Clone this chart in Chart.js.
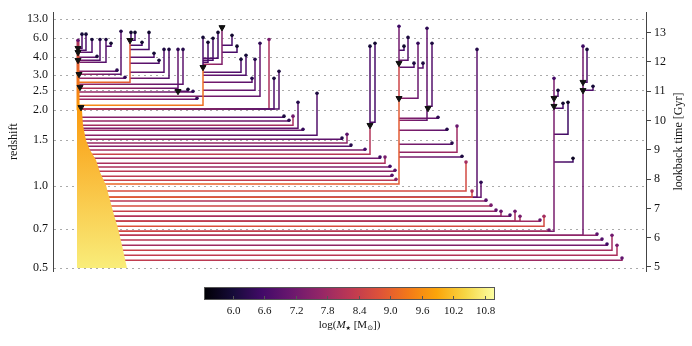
<!DOCTYPE html>
<html>
<head>
<meta charset="utf-8">
<script src="https://cdn.jsdelivr.net/npm/chart.js@4.4.0/dist/chart.umd.min.js"></script>
<style>
  html, body { margin: 0; padding: 0; background: #fff; }
  canvas { display: block; }
</style>
</head>
<body>
<canvas id="tree" width="692" height="346"></canvas>
<script>
// left axis: redshift labels and the lookback time (Gyr) they sit at
const zLabels   = ['0.5', '0.7', '1.0', '1.5', '2.0', '2.5', '3.0', '4.0', '6.0', '13.0'];
const zLookback = [4.96, 6.29, 7.76, 9.33, 10.35, 11.03, 11.55, 12.16, 12.81, 13.46];
// right axis: lookback time ticks
const tTicks = [5, 6, 7, 8, 9, 10, 11, 12, 13];
// colour bar (log stellar mass)
const cbTicks = [6.0, 6.6, 7.2, 7.8, 8.4, 9.0, 9.6, 10.2, 10.8];
const cbMin = 5.45, cbMax = 11.0;

// main progenitor: line above the filled body
const mainX = 78;
const mainT = [10.35, 11.14, 12.06, 12.74];
const mainMass = [9.8, 9.4, 8.9, 7.9];
// filled body of the main progenitor (right edge, bottom to top)
const bodyT = [4.96, 5.74, 6.32, 6.77, 7.28, 7.79, 8.23, 8.65, 8.99, 9.33, 9.84, 10.35, 10.45];
const bodyX = [127, 122, 118, 114, 110, 106, 100, 96, 90, 86, 83, 82, 79];
const bodyMassBottom = 10.75, bodyMassTop = 9.75;

// side branches: parent position, merger time, own position, first snapshot, masses
const brFromX = [
  78, 78, 78, 78, 78, 78, 78, 78, 78, 78,
  78, 78, 78, 78, 78, 78, 78, 78, 78, 78,
  78, 399, 399, 399, 399, 399, 399, 418, 399, 427,
  399, 399, 399, 399, 399, 78, 583, 583, 78, 554,
  554, 554, 554, 78, 78, 78, 78, 78, 78, 78,
  78, 78, 78, 78, 78, 78, 78, 370, 370, 78,
  78, 78, 78, 78, 78, 78, 203, 203, 203, 203,
  203, 222, 222, 203, 203, 203, 203, 78, 78, 78,
  78, 178, 78, 78, 130, 130, 130, 130, 130, 130,
  130, 130, 78, 78, 78, 78, 106, 78, 78, 78,
  78, 78
];
const brMergeT = [
  5.23, 5.40, 5.57, 5.74, 5.92, 6.08, 6.22, 6.39, 6.56, 6.56,
  6.56, 6.73, 6.73, 6.90, 7.08, 7.25, 7.38, 7.38, 7.38, 7.59,
  7.83, 10.76, 11.96, 12.40, 12.06, 11.82, 10.76, 11.79, 10.01, 10.49,
  10.08, 9.67, 9.19, 8.92, 8.75, 6.08, 11.31, 11.03, 6.22, 10.83,
  10.42, 9.53, 8.58, 10.39, 10.39, 10.39, 10.11, 9.98, 9.84, 9.74,
  9.67, 9.50, 9.36, 9.23, 9.12, 8.99, 8.85, 9.84, 9.94, 8.71,
  8.54, 8.41, 8.27, 8.10, 7.96, 10.52, 11.82, 11.99, 12.06, 12.13,
  11.92, 12.57, 12.33, 11.65, 11.55, 11.31, 11.03, 10.83, 10.73, 10.97,
  11.10, 11.00, 11.24, 11.31, 12.74, 12.74, 12.57, 12.43, 12.16, 11.96,
  11.65, 11.44, 11.44, 11.58, 11.68, 11.99, 12.54, 12.06, 12.16, 12.33,
  12.40, 12.47
];
const brX = [
  622, 617, 612, 607, 602, 597, 549, 544, 540, 520,
  515, 510, 501, 496, 491, 486, 472, 477, 481, 466,
  399, 399, 399, 404, 408, 414, 418, 423, 427, 432,
  438, 447, 452, 457, 462, 583, 587, 593, 554, 558,
  563, 568, 573, 279, 274, 269, 284, 289, 293, 298,
  303, 317, 342, 347, 351, 365, 370, 370, 375, 380,
  385, 390, 395, 392, 396, 203, 203, 208, 213, 218,
  222, 232, 237, 241, 246, 252, 255, 260, 197, 193,
  178, 188, 183, 130, 131, 135, 142, 149, 154, 159,
  164, 169, 125, 121, 117, 106, 111, 100, 97, 92,
  86, 82
];
const brStartT = [
  5.30, 5.74, 6.08, 5.78, 5.95, 6.12, 6.26, 6.73, 6.60, 6.73,
  6.90, 6.77, 6.90, 6.94, 7.11, 7.28, 7.59, 12.43, 7.89, 8.58,
  10.76, 11.96, 13.22, 12.54, 12.84, 11.96, 12.64, 11.96, 13.15, 12.64,
  10.11, 9.70, 9.23, 9.81, 8.78, 12.54, 12.43, 11.17, 11.44, 11.03,
  10.59, 10.62, 8.71, 11.68, 11.44, 12.77, 10.15, 10.01, 10.15, 10.62,
  9.70, 10.93, 9.40, 9.53, 9.16, 9.02, 9.84, 12.54, 12.64, 8.75,
  8.75, 8.44, 8.30, 8.13, 7.99, 11.82, 12.84, 12.67, 12.81, 13.01,
  13.18, 12.91, 12.54, 12.09, 12.23, 11.44, 12.09, 12.64, 10.76, 11.00,
  12.43, 11.07, 12.43, 12.74, 13.01, 13.01, 12.67, 13.01, 12.30, 12.06,
  12.43, 12.43, 11.48, 13.05, 11.72, 12.77, 12.64, 12.77, 12.19, 12.77,
  12.95, 12.95
];
const brMassMerge = [
  8.4, 8.4, 8.5, 8.0, 8.3, 8.3, 8.7, 8.8, 8.5, 8.2,
  8.2, 8.2, 8.2, 8.5, 8.8, 8.3, 9.0, 8.6, 8.5, 8.7,
  9.1, 8.6, 7.6, 6.8, 7.2, 7.0, 7.6, 7.0, 7.6, 7.0,
  7.5, 7.5, 7.4, 7.6, 7.4, 8.2, 7.0, 6.9, 8.2, 6.9,
  6.9, 6.9, 6.9, 8.3, 8.2, 8.2, 7.6, 7.8, 7.9, 7.5,
  7.8, 7.6, 7.8, 7.8, 7.6, 8.0, 8.5, 7.0, 6.9, 7.9,
  8.0, 8.1, 8.3, 8.4, 8.5, 9.6, 7.1, 6.9, 6.9, 6.9,
  8.0, 6.8, 6.8, 7.1, 7.1, 7.3, 7.4, 7.9, 7.8, 7.8,
  8.2, 6.8, 7.8, 9.3, 6.8, 6.8, 6.8, 6.9, 7.0, 7.1,
  7.2, 7.3, 7.8, 7.8, 7.6, 7.4, 6.8, 7.3, 7.3, 7.2,
  7.0, 7.0
];
const brMassStart = [
  7.7, 8.0, 7.9, 7.2, 7.5, 7.6, 7.9, 8.6, 7.8, 8.0,
  7.9, 7.4, 7.8, 7.7, 8.0, 7.6, 8.7, 6.9, 7.0, 8.6,
  8.9, 8.5, 7.2, 6.6, 6.8, 6.8, 7.1, 6.8, 7.0, 6.8,
  7.0, 6.9, 6.9, 7.8, 6.8, 7.2, 6.7, 6.7, 7.3, 6.7,
  6.6, 6.5, 6.5, 6.8, 6.7, 8.0, 6.8, 7.0, 7.9, 6.9,
  7.1, 6.8, 6.9, 7.6, 6.9, 7.3, 8.1, 6.7, 6.6, 7.2,
  8.0, 7.3, 7.6, 7.6, 8.2, 9.2, 6.7, 6.6, 6.6, 6.6,
  7.4, 6.6, 6.6, 6.7, 6.7, 6.9, 6.9, 7.0, 7.1, 7.0,
  7.0, 6.6, 6.9, 8.9, 6.6, 6.6, 6.6, 6.6, 6.7, 6.7,
  6.8, 6.8, 7.1, 6.9, 7.0, 6.8, 6.6, 6.8, 6.8, 6.7,
  6.7, 6.7
];

// merger markers
const trX = [78, 78, 78, 79, 80, 81, 130, 222, 203, 178, 399, 399, 428, 370, 554, 554, 583, 583];
const trT = [12.47, 12.33, 12.06, 11.58, 11.14, 10.45, 12.74, 13.18, 11.82, 11.00, 11.96, 10.76, 10.42, 9.84, 10.76, 10.49, 11.31, 11.03];

const SERIF = '"Liberation Serif", "DejaVu Serif", serif';

const inferno = [
  [0, 0, 4], [22, 11, 57], [66, 10, 104], [106, 23, 110], [147, 38, 103], [188, 55, 84],
  [221, 81, 58], [243, 120, 25], [252, 165, 10], [246, 215, 70], [252, 255, 164]
];
function cmap(v) {
  let t = (v - cbMin) / (cbMax - cbMin);
  t = Math.max(0, Math.min(1, t));
  const s = t * (inferno.length - 1);
  const i = Math.min(Math.floor(s), inferno.length - 2);
  const f = s - i;
  const a = inferno[i], b = inferno[i + 1];
  const c = a.map((q, k) => Math.round(q + (b[k] - q) * f));
  return 'rgb(' + c.join(',') + ')';
}

function branchStroke(chart, i) {
  const area = chart.chartArea;
  if (!area) return cmap(brMassMerge[i]);
  const x0 = chart.scales.x.getPixelForValue(brFromX[i]);
  const x1 = chart.scales.x.getPixelForValue(brX[i]);
  if (x1 - x0 < 2) return cmap(brMassStart[i]);
  const g = chart.ctx.createLinearGradient(x0, 0, x1, 0);
  g.addColorStop(0, cmap(brMassMerge[i]));
  g.addColorStop(1, cmap(brMassStart[i]));
  return g;
}

function verticalGrad(chart, ts, ms) {
  const area = chart.chartArea;
  if (!area) return cmap(ms[0]);
  const y = chart.scales.y;
  const p0 = y.getPixelForValue(ts[0]), p1 = y.getPixelForValue(ts[ts.length - 1]);
  const g = chart.ctx.createLinearGradient(0, p0, 0, p1);
  ts.forEach((t, k) => {
    g.addColorStop((y.getPixelForValue(t) - p0) / (p1 - p0), cmap(ms[k]));
  });
  return g;
}

const datasets = [];

brX.forEach((x, i) => {
  datasets.push({
    type: 'line',
    data: [
      {x: brFromX[i], y: brMergeT[i]},
      {x: x, y: brMergeT[i]},
      {x: x, y: brStartT[i]}
    ],
    borderColor: ctx => branchStroke(ctx.chart, i),
    borderWidth: 1.5,
    pointRadius: ctx => ctx.dataIndex === 2 ? 1.8 : 0,
    pointBackgroundColor: cmap(brMassStart[i] - 0.7),
    pointBorderWidth: 0,
    fill: false,
    order: 2
  });
});

// main line
datasets.push({
  type: 'line',
  data: mainT.map(t => ({x: mainX, y: t})),
  borderColor: ctx => verticalGrad(ctx.chart, mainT, mainMass),
  borderWidth: 3,
  pointRadius: ctx => ctx.dataIndex === mainT.length - 1 ? 1.8 : 0,
  pointBackgroundColor: cmap(7.0),
  pointBorderWidth: 0,
  fill: false,
  order: 1
});

// filled body
datasets.push({
  type: 'line',
  indexAxis: 'y',
  data: bodyT.map((t, i) => ({x: bodyX[i], y: t})),
  borderWidth: 0,
  borderColor: 'rgba(0,0,0,0)',
  pointRadius: 0,
  fill: {value: 77},
  backgroundColor: ctx => verticalGrad(ctx.chart, [bodyT[0], bodyT[bodyT.length - 1]], [bodyMassBottom, bodyMassTop]),
  order: -1
});

// merger triangles
datasets.push({
  type: 'line',
  showLine: false,
  data: trX.map((x, i) => ({x: x, y: trT[i]})),
  pointStyle: 'triangle',
  rotation: 180,
  pointRadius: 3.5,
  pointBackgroundColor: '#111',
  pointBorderColor: '#111',
  pointBorderWidth: 1,
  order: -2
});

const textPlugin = {
  id: 'textPlugin',
  afterDraw(chart) {
    const c = chart.ctx;
    const area = chart.chartArea;
    const mid = (area.top + area.bottom) / 2;
    c.save();
    c.fillStyle = '#111';
    c.font = '12px ' + SERIF;
    c.textAlign = 'center';
    c.textBaseline = 'middle';
    c.save(); c.translate(14, mid); c.rotate(-Math.PI / 2); c.fillText('redshift', 0, 0); c.restore();
    c.save(); c.translate(679, mid); c.rotate(-Math.PI / 2); c.fillText('lookback time [Gyr]', 0, 0); c.restore();

    // colour bar
    const L = 204, R = 495, T = 287, B = 300;
    const g = c.createLinearGradient(L, 0, R, 0);
    for (let k = 0; k <= 20; k++) {
      g.addColorStop(k / 20, cmap(cbMin + (cbMax - cbMin) * k / 20));
    }
    c.fillStyle = g;
    c.fillRect(L, T, R - L, B - T);
    c.strokeStyle = '#555';
    c.lineWidth = 1;
    c.strokeRect(L + 0.5, T + 0.5, R - L - 1, B - T - 1);
    c.font = '11px ' + SERIF;
    c.fillStyle = '#111';
    cbTicks.forEach(v => {
      const px = Math.round(L + (v - cbMin) / (cbMax - cbMin) * (R - L)) + 0.5;
      c.beginPath(); c.moveTo(px, B - 4); c.lineTo(px, B); c.stroke();
      c.fillText(v.toFixed(1), px, 311);
    });
    // label: log(M_star [M_sun])
    const parts = [
      ['log(', '11px ' + SERIF, 0],
      ['M', 'italic 11px ' + SERIF, 0],
      ['\u2605', '6px "DejaVu Sans"', 3],
      [' [M', '11px ' + SERIF, 0],
      ['\u2299', '7px "DejaVu Sans"', 3],
      ['])', '11px ' + SERIF, 0]
    ];
    let w = 0;
    parts.forEach(p => { c.font = p[1]; w += c.measureText(p[0]).width; });
    let x = 349.5 - w / 2;
    c.textAlign = 'left';
    parts.forEach(p => { c.font = p[1]; c.fillText(p[0], x, 325 + p[2]); x += c.measureText(p[0]).width; });
    c.restore();
  }
};

new Chart(document.getElementById('tree'), {
  type: 'line',
  data: {datasets: datasets},
  options: {
    responsive: false,
    devicePixelRatio: 1,
    animation: false,
    layout: {padding: {top: 12, bottom: 75, left: 0, right: 0}},
    plugins: {legend: {display: false}, tooltip: {enabled: false}},
    scales: {
      x: {type: 'linear', min: 53, max: 646, display: false},
      y: {
        type: 'linear', position: 'right', min: 4.86, max: 13.70,
        afterFit: s => { s.width = 46; },
        afterBuildTicks: s => { s.ticks = tTicks.map(v => ({value: v})); },
        ticks: {font: {family: SERIF, size: 12}, color: '#111', padding: 3, callback: v => String(v)},
        grid: {drawOnChartArea: false, drawTicks: true, tickLength: 5, color: '#444'},
        border: {display: true, color: '#444', width: 1}
      },
      yz: {
        type: 'linear', position: 'left', min: 4.86, max: 13.70,
        afterFit: s => { s.width = 53; },
        afterBuildTicks: s => { s.ticks = zLookback.map(v => ({value: v})); },
        ticks: {font: {family: SERIF, size: 12}, color: '#111', padding: 5,
                callback: (v, i) => zLabels[i]},
        grid: {drawTicks: false, color: '#aaa', lineWidth: 1},
        border: {display: true, color: '#444', width: 1, dash: [2, 4]}
      }
    }
  },
  plugins: [textPlugin]
});
</script>
</body>
</html>
